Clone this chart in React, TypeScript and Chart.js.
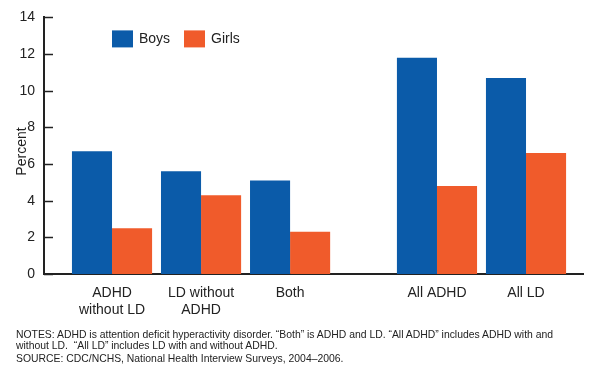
import React, { useEffect, useRef } from "react";
import { Chart, registerables } from "chart.js";

Chart.register(...registerables);

const categories: string[][] = [
  ["ADHD", "without LD"],
  ["LD without", "ADHD"],
  ["Both"],
  ["All ADHD"],
  ["All LD"],
];
// horizontal slot of each group (a wider gap before the "All" groups)
const groupSlots = [0, 1, 2, 3.65, 4.65];
const boys = [6.7, 5.6, 5.1, 11.8, 10.7];
const girls = [2.5, 4.3, 2.3, 4.8, 6.6];
const yTicks = [0, 2, 4, 6, 8, 10, 12, 14];

const notes = [
  "NOTES: ADHD is attention deficit hyperactivity disorder. \u201cBoth\u201d is ADHD and LD. \u201cAll ADHD\u201d includes ADHD with and",
  "without LD.  \u201cAll LD\u201d includes LD with and without ADHD.",
  "SOURCE: CDC/NCHS, National Health Interview Surveys, 2004\u20132006.",
];

const FONT = "'Liberation Sans', Arial, Helvetica, sans-serif";
const BLUE = "#0B5BA9";
const ORANGE = "#F05B2B";
const INK = "#222222";

const innerTicks = {
  id: "innerTicks",
  afterDraw(chart: any) {
    const { ctx, chartArea } = chart;
    const y = chart.scales.y;
    ctx.save();
    ctx.strokeStyle = INK;
    ctx.lineWidth = 1.5;
    yTicks.forEach((v) => {
      const py = Math.round(y.getPixelForValue(v)) + 0.5;
      ctx.beginPath();
      ctx.moveTo(chartArea.left, py);
      ctx.lineTo(chartArea.left + 9, py);
      ctx.stroke();
    });
    ctx.restore();
  },
};

const insideLegend = {
  id: "insideLegend",
  afterDraw(chart: any) {
    const { ctx, chartArea } = chart;
    const offsets = [68, 140];
    ctx.save();
    ctx.font = `14px ${FONT}`;
    ctx.textBaseline = "middle";
    chart.data.datasets.forEach((ds: any, i: number) => {
      const x = chartArea.left + offsets[i];
      const top = chartArea.top + 13;
      ctx.fillStyle = ds.backgroundColor;
      ctx.fillRect(x, top, 21, 17);
      ctx.fillStyle = INK;
      ctx.fillText(ds.label, x + 27, top + 9);
    });
    ctx.restore();
  },
};

export default function App() {
  const ref = useRef<HTMLCanvasElement | null>(null);

  useEffect(() => {
    if (!ref.current) return;
    const chart = new Chart(ref.current, {
      type: "bar",
      data: {
        datasets: [
          {
            label: "Boys",
            data: groupSlots.map((x, i) => ({ x, y: boys[i] })),
            backgroundColor: BLUE,
            borderWidth: 0,
            categoryPercentage: 0.9,
            barPercentage: 1,
          },
          {
            label: "Girls",
            data: groupSlots.map((x, i) => ({ x, y: girls[i] })),
            backgroundColor: ORANGE,
            borderWidth: 0,
            categoryPercentage: 0.9,
            barPercentage: 1,
          },
        ],
      },
      options: {
        animation: false,
        responsive: false,
        maintainAspectRatio: false,
        layout: { padding: { top: 14, right: 10, bottom: 45, left: 0 } },
        plugins: {
          legend: { display: false },
          tooltip: { enabled: false },
        },
        scales: {
          x: {
            type: "linear",
            min: -0.764,
            max: 5.29,
            offset: false,
            grid: { display: false, drawTicks: false },
            border: { display: true, color: INK, width: 2 },
            afterBuildTicks: (s: any) => {
              s.ticks = groupSlots.map((v) => ({ value: v }));
            },
            afterFit: (s: any) => {
              s.height = 48;
            },
            ticks: {
              autoSkip: false,
              maxRotation: 0,
              minRotation: 0,
              padding: 11,
              color: INK,
              font: { family: FONT, size: 14, lineHeight: 1.2 },
              callback: (_v: any, i: number) => categories[i],
            },
          },
          y: {
            min: 0,
            max: 14,
            afterBuildTicks: (s: any) => {
              s.ticks = yTicks.map((v) => ({ value: v }));
            },
            afterFit: (s: any) => {
              s.width = 44;
            },
            grid: { display: false, drawTicks: false },
            border: { display: true, color: INK, width: 2 },
            ticks: {
              padding: 9,
              color: INK,
              font: { family: FONT, size: 14 },
            },
            title: {
              display: true,
              text: "Percent   ",
              color: INK,
              font: { family: FONT, size: 14 },
              padding: { top: 14, bottom: 0 },
            },
          },
        },
      },
      plugins: [innerTicks, insideLegend],
    });
    return () => chart.destroy();
  }, []);

  const noteTops = [329, 340, 353];
  return (
    <div style={{ position: "absolute", left: 0, top: 0, width: 593, height: 367, background: "#fff" }}>
      <canvas ref={ref} width={593} height={367} style={{ position: "absolute", left: 0, top: 0, width: 593, height: 367 }} />
      {notes.map((t, i) => (
        <div
          key={i}
          style={{
            position: "absolute",
            left: 16,
            top: noteTops[i],
            fontFamily: FONT,
            fontSize: 10.4,
            lineHeight: "12px",
            color: INK,
            whiteSpace: "pre",
          }}
        >
          {t}
        </div>
      ))}
    </div>
  );
}
